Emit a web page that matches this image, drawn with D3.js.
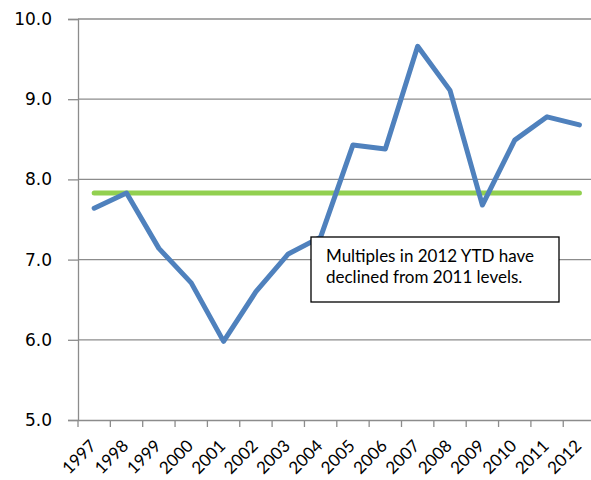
<!DOCTYPE html>
<html>
<head>
<meta charset="utf-8">
<script src="https://cdn.jsdelivr.net/npm/d3@7"></script>
<style>
  body { margin: 0; background: #fff; }
  svg { display: block; }
</style>
</head>
<body>
<script>
const years = ['1997','1998','1999','2000','2001','2002','2003','2004','2005','2006','2007','2008','2009','2010','2011','2012'];
const multiples = [7.64, 7.83, 7.14, 6.71, 5.98, 6.60, 7.07, 7.28, 8.43, 8.38, 9.66, 9.11, 7.68, 8.49, 8.78, 8.68];
const average = 7.83;
const yTicks = [5, 6, 7, 8, 9, 10];
const note = ['Multiples in 2012 YTD have', 'declined from 2011 levels.'];

const w = 591, h = 480;
const padLeft = 78, padTop = 19, padBottom = 420;

const svg = d3.select('body').append('svg').attr('width', w).attr('height', h);

const xScale = d3.scaleBand().domain(years).range([padLeft, padLeft + 16 * 32.35]);
const yScale = d3.scaleLinear().domain([5, 10]).range([padBottom, padTop]);

// gridlines
svg.append('g').selectAll('line')
  .data(yTicks.filter(d => d > 5))
  .enter().append('line')
  .attr('x1', padLeft).attr('x2', w)
  .attr('y1', d => yScale(d)).attr('y2', d => yScale(d))
  .attr('stroke', '#8c8c8c').attr('stroke-width', 1.3);

// y axis
const yAxis = d3.axisLeft(yScale).tickValues(yTicks).tickSize(10).tickPadding(16).tickFormat(d3.format('.1f'));
const gy = svg.append('g').attr('transform', 'translate(' + padLeft + ',0)').call(yAxis);
gy.select('.domain').attr('stroke', '#8c8c8c').attr('stroke-width', 1.3);
gy.selectAll('.tick line').attr('stroke', '#8c8c8c').attr('stroke-width', 1.3);
gy.selectAll('text').attr('font-family', 'DejaVu Sans').attr('font-size', 17).attr('fill', '#000');

// x axis
const xAxis = d3.axisBottom(xScale).tickSize(0).tickPadding(0);
const gx = svg.append('g').attr('transform', 'translate(0,' + padBottom + ')').call(xAxis);
gx.select('.domain').attr('stroke', '#8c8c8c').attr('stroke-width', 1.3);
gx.selectAll('.tick text')
  .attr('font-family', 'Lato').attr('font-size', 17).attr('fill', '#000')
  .attr('text-anchor', 'end').attr('dy', 0).attr('y', 0)
  .attr('transform', 'translate(3,27) rotate(-45)');
// category boundary ticks
svg.append('g').selectAll('line')
  .data(years)
  .enter().append('line')
  .attr('x1', d => xScale(d)).attr('x2', d => xScale(d))
  .attr('y1', padBottom).attr('y2', padBottom + 7)
  .attr('stroke', '#8c8c8c').attr('stroke-width', 1.3);

const cx = d => xScale(d) + xScale.bandwidth() / 2;

// average line
svg.append('line')
  .attr('x1', cx(years[0])).attr('x2', cx(years[years.length - 1]))
  .attr('y1', yScale(average)).attr('y2', yScale(average))
  .attr('stroke', '#92d050').attr('stroke-width', 5).attr('stroke-linecap', 'round');

// multiples line
const line = d3.line().x((d, i) => cx(years[i])).y(d => yScale(d));
svg.append('path')
  .datum(multiples)
  .attr('d', line)
  .attr('fill', 'none')
  .attr('stroke', '#4f81bd')
  .attr('stroke-width', 5)
  .attr('stroke-linejoin', 'round')
  .attr('stroke-linecap', 'round');

// annotation
const box = svg.append('g').attr('transform', 'translate(311,237)');
box.append('rect').attr('width', 248).attr('height', 65)
  .attr('fill', '#fff').attr('stroke', '#000').attr('stroke-width', 1.3);
box.selectAll('text')
  .data(note)
  .enter().append('text')
  .attr('x', 15).attr('y', (d, i) => 25 + i * 21)
  .attr('font-family', 'Lato').attr('font-size', 17).attr('fill', '#000')
  .text(d => d);
</script>
</body>
</html>
